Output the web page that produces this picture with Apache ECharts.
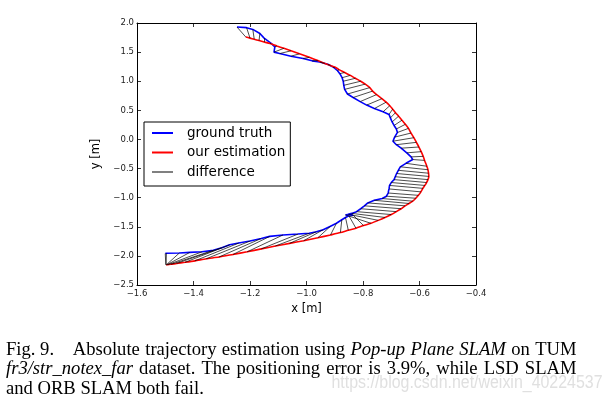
<!DOCTYPE html>
<html><head><meta charset="utf-8">
<script src="https://cdn.jsdelivr.net/npm/echarts@6/dist/echarts.min.js"></script>
<style>html,body{margin:0;padding:0;background:#fff}#c{width:612px;height:403px}</style>
</head><body><div id="c"></div>
<script>
// ---- data ----
const gtX = [-1.246,-1.212,-1.190,-1.165,-1.150,-1.125,-1.112,-1.115,-1.095,-1.055,-1.012,-0.980,-0.953,-0.925,-0.906,-0.890,-0.882,-0.874,-0.870,-0.868,-0.865,-0.855,-0.835,-0.810,-0.787,-0.760,-0.729,-0.708,-0.703,-0.697,-0.690,-0.682,-0.678,-0.688,-0.694,-0.682,-0.665,-0.645,-0.630,-0.624,-0.648,-0.668,-0.675,-0.681,-0.686,-0.690,-0.700,-0.706,-0.708,-0.711,-0.717,-0.732,-0.760,-0.783,-0.795,-0.808,-0.823,-0.840,-0.852,-0.862,-0.835,-0.850,-0.862,-0.875,-0.894,-0.915,-0.941,-0.965,-0.990,-1.030,-1.083,-1.130,-1.160,-1.200,-1.240,-1.272,-1.300,-1.330,-1.370,-1.413,-1.450,-1.496,-1.500];
const gtY = [1.930,1.920,1.890,1.820,1.740,1.650,1.590,1.500,1.475,1.430,1.390,1.350,1.330,1.290,1.245,1.180,1.130,1.060,1.000,0.930,0.860,0.780,0.720,0.650,0.590,0.530,0.475,0.430,0.370,0.300,0.240,0.180,0.120,0.040,-0.030,-0.090,-0.150,-0.230,-0.300,-0.345,-0.410,-0.470,-0.530,-0.585,-0.640,-0.690,-0.740,-0.790,-0.850,-0.920,-0.975,-1.015,-1.045,-1.090,-1.140,-1.190,-1.240,-1.270,-1.285,-1.297,-1.300,-1.310,-1.340,-1.380,-1.440,-1.490,-1.550,-1.585,-1.610,-1.625,-1.640,-1.665,-1.700,-1.745,-1.780,-1.810,-1.860,-1.905,-1.930,-1.940,-1.950,-1.955,-1.960];
const estX = [-1.215,-1.200,-1.185,-1.168,-1.150,-1.129,-1.105,-1.080,-1.055,-1.025,-0.990,-0.960,-0.935,-0.915,-0.900,-0.885,-0.865,-0.845,-0.827,-0.808,-0.792,-0.776,-0.766,-0.752,-0.733,-0.718,-0.705,-0.695,-0.685,-0.674,-0.662,-0.650,-0.639,-0.630,-0.620,-0.611,-0.602,-0.594,-0.587,-0.582,-0.574,-0.570,-0.568,-0.567,-0.570,-0.575,-0.581,-0.588,-0.595,-0.604,-0.613,-0.624,-0.637,-0.651,-0.665,-0.682,-0.700,-0.722,-0.746,-0.772,-0.798,-0.825,-0.852,-0.880,-0.915,-0.960,-1.010,-1.060,-1.110,-1.160,-1.210,-1.260,-1.310,-1.355,-1.395,-1.430,-1.460,-1.480,-1.490,-1.494,-1.496,-1.497,-1.498];
const estY = [1.760,1.740,1.720,1.698,1.674,1.646,1.605,1.565,1.522,1.470,1.410,1.355,1.305,1.270,1.245,1.200,1.150,1.100,1.050,1.000,0.950,0.890,0.830,0.770,0.700,0.640,0.580,0.520,0.460,0.400,0.330,0.260,0.190,0.110,0.030,-0.050,-0.130,-0.210,-0.290,-0.360,-0.460,-0.520,-0.580,-0.635,-0.690,-0.740,-0.790,-0.840,-0.900,-0.960,-1.010,-1.060,-1.100,-1.140,-1.190,-1.240,-1.290,-1.340,-1.390,-1.440,-1.480,-1.525,-1.560,-1.600,-1.640,-1.690,-1.740,-1.785,-1.830,-1.880,-1.930,-1.975,-2.020,-2.050,-2.085,-2.110,-2.130,-2.145,-2.150,-2.152,-2.153,-2.153,-2.153];

const xTicks = [-1.6,-1.4,-1.2,-1.0,-0.8,-0.6,-0.4];
const xTickLabels = ['\u22121.6','\u22121.4','\u22121.2','\u22121.0','\u22120.8','\u22120.6','\u22120.4'];
const yTicks = [-2.5,-2.0,-1.5,-1.0,-0.5,0.0,0.5,1.0,1.5,2.0];
const yTickLabels = ['\u22122.5','\u22122.0','\u22121.5','\u22121.0','\u22120.5','0.0','0.5','1.0','1.5','2.0'];

const seriesNames = ['ground truth','our estimation','difference'];
const captionLine1 = ['Absolute','trajectory','estimation','using',['Pop-up',1],['Plane',1],['SLAM',1],'on','TUM'];
const captionLine2 = [['fr3/str_notex_far',1],'dataset.','The','positioning','error','is','3.9%,','while','LSD','SLAM'];
const captionLine3 = 'and ORB SLAM both fail.';
const watermark = 'https://blog.csdn.net/weixin_40224537';

// ---- build ----
const gtData = gtX.map((x,i)=>[x,gtY[i]]);
const estData = estX.map((x,i)=>[x,estY[i]]);
const diffData = gtX.map((x,i)=>({coords:[[x,gtY[i]],[estX[i],estY[i]]]}));

function labelFrom(ticks, labels){
  return v => { const i = ticks.findIndex(t=>Math.abs(t-v)<1e-6); return i>=0?labels[i]:''; };
}
const xInt = Math.round((xTicks[1]-xTicks[0])*1000)/1000;
const yInt = Math.round((yTicks[1]-yTicks[0])*1000)/1000;

const tickFont = {fontFamily:'DejaVu Sans', fontSize:8.5, color:'#222'};
function xa(pos, show){
  return {type:'value', position:pos, min:xTicks[0], max:xTicks[xTicks.length-1], interval:xInt,
    axisLine:{show:true,onZero:false,lineStyle:{color:'#000',width:1}},
    axisTick:{show:true,inside:true,length:4,lineStyle:{color:'#000',width:0.8}},
    axisLabel:Object.assign({show:show,margin:4,formatter:labelFrom(xTicks,xTickLabels)},tickFont),
    splitLine:{show:false},
    name: show?'x [m]':'', nameLocation:'middle', nameGap:15,
    nameTextStyle:{fontFamily:'DejaVu Sans',fontSize:11.5,color:'#000'}};
}
function ya(pos, show){
  return {type:'value', position:pos, min:yTicks[0], max:yTicks[yTicks.length-1], interval:yInt,
    axisLine:{show:true,onZero:false,lineStyle:{color:'#000',width:1}},
    axisTick:{show:true,inside:true,length:4,lineStyle:{color:'#000',width:0.8}},
    axisLabel:Object.assign({show:show,margin:3,formatter:labelFrom(yTicks,yTickLabels)},tickFont),
    splitLine:{show:false},
    name: show?'y [m]':'', nameLocation:'middle', nameGap:27,
    nameTextStyle:{fontFamily:'DejaVu Sans',fontSize:11.5,color:'#000'}};
}

// caption layout
const CAP = 18.6;
const ctx = document.createElement('canvas').getContext('2d');
function capFont(it){ return (it?'italic ':'')+CAP+'px "Liberation Serif"'; }
function mw(t,it){ ctx.font = capFont(it); return ctx.measureText(t).width; }
const graphics = [];
function txt(t,x,y,it){
  graphics.push({type:'text', x:x, y:y, silent:true,
    style:{text:t, font:capFont(it), fill:'#000', textAlign:'left', textVerticalAlign:'middle', align:'left', verticalAlign:'middle'}});
}
function justify(tokens,x0,x1,y){
  const items = tokens.map(t=>Array.isArray(t)?{t:t[0],it:true}:{t:t,it:false});
  const ws = items.map(o=>mw(o.t,o.it));
  const total = ws.reduce((a,b)=>a+b,0);
  const gap = (x1-x0-total)/(items.length-1);
  let x = x0;
  items.forEach((o,i)=>{ txt(o.t,x,y,o.it); x += ws[i]+gap; });
}
const L1 = 350, L2 = 369.5, L3 = 389;
txt('Fig. 9.', 6, L1, false);
justify(captionLine1, 72.7, 576.5, L1);
justify(captionLine2, 6, 576.5, L2);
txt(captionLine3, 6, L3, false);
graphics.push({type:'text', x:331.5, y:383, scaleX:0.885, silent:true, z:-1,
  style:{text:watermark, font:'18px "Liberation Sans"', fill:'#e0e0e0', textAlign:'left', textVerticalAlign:'middle', align:'left', verticalAlign:'middle'}});

const chart = echarts.init(document.getElementById('c'), null, {renderer:'canvas'});
chart.setOption({
  animation:false,
  backgroundColor:'#fff',
  grid:{left:137, top:23, width:339, height:262, containLabel:false},
  xAxis:[xa('bottom',true), xa('top',false)],
  yAxis:[ya('left',true), ya('right',false)],
  legend:{orient:'vertical', left:144, top:122, padding:[3,5,6,8], itemGap:3.5, itemWidth:21, itemHeight:2,
    borderColor:'#000', borderWidth:1, backgroundColor:'#fff', selectedMode:false,
    textStyle:{fontFamily:'DejaVu Sans', fontSize:13.5, color:'#000', lineHeight:16, padding:[0,0,0,9]},
    data:[{name:seriesNames[0],icon:'rect',itemStyle:{color:'#0000ff',borderWidth:0}},
          {name:seriesNames[1],icon:'rect',itemStyle:{color:'#ff0000',borderWidth:0}},
          {name:seriesNames[2],icon:'rect',itemStyle:{color:'#808080',borderWidth:0,borderColor:'#808080'},lineStyle:{width:0}}]},
  series:[
    {type:'line', name:seriesNames[0], data:gtData, symbol:'none', showSymbol:false, z:2,
      lineStyle:{color:'#0000ff', width:1.6}, itemStyle:{color:'#0000ff'}},
    {type:'line', name:seriesNames[1], data:estData, symbol:'none', showSymbol:false, smooth:0.2, z:2,
      lineStyle:{color:'#ff0000', width:1.6}, itemStyle:{color:'#ff0000'}},
    {type:'lines', name:seriesNames[2], coordinateSystem:'cartesian2d', data:diffData, z:3,
      lineStyle:{color:'#000', width:0.7, opacity:1, curveness:0}}
  ],
  graphic:{elements:graphics}
});
</script></body></html>
